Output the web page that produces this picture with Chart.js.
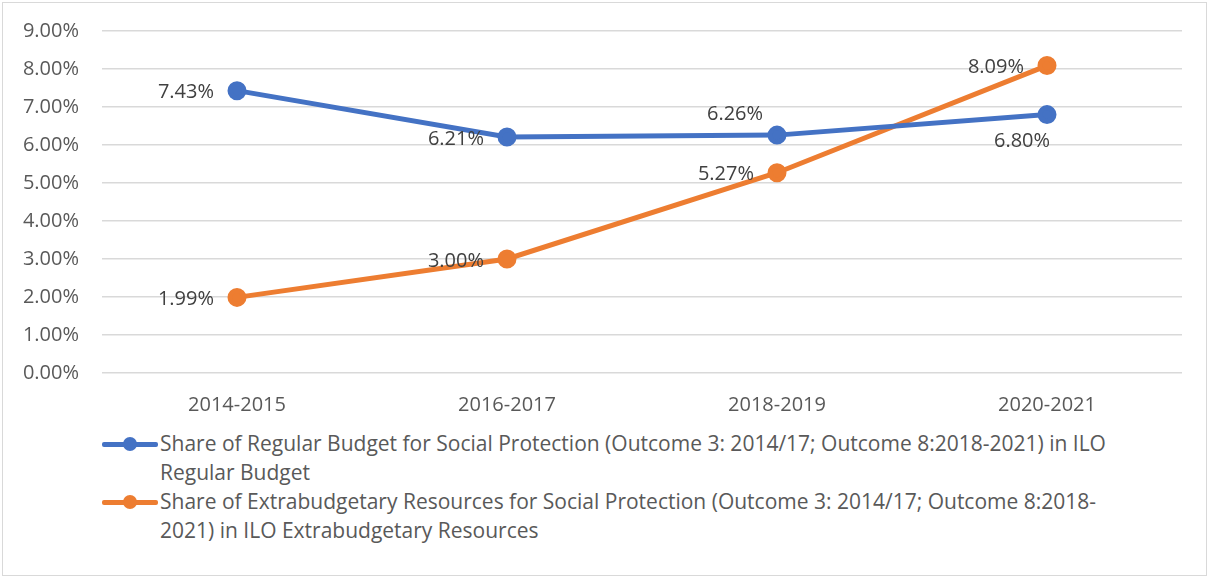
<!DOCTYPE html>
<html>
<head>
<meta charset="utf-8">
<script src="https://cdn.jsdelivr.net/npm/chart.js@4"></script>
<style>
  html, body { margin: 0; padding: 0; background: #fff; }
  #wrap { position: relative; width: 1212px; height: 580px; overflow: hidden; }
  #frame { position: absolute; left: 2px; top: 2px; width: 1205px; height: 574px; border: 1px solid #d9d9d9; box-sizing: border-box; }
  #chart-box { position: absolute; left: 0; top: -4px; width: 1212px; height: 425px; }
  #legend { position: absolute; left: 102px; top: 429px; font-family: 'Open Sans', sans-serif; font-size: 21px; color: #595959; line-height: 29px; }
  .item { display: flex; align-items: flex-start; white-space: nowrap; }
  .swatch { position: relative; width: 56px; height: 29px; flex: none; margin-right: 2px; }
  .swatch i { position: absolute; left: 0; right: 0; top: 13px; height: 5px; border-radius: 2px; }
  .swatch b { position: absolute; left: 21px; top: 8px; width: 14px; height: 14px; border-radius: 50%; }
</style>
</head>
<body>
<div id="wrap">
  <div id="frame"></div>
  <div id="chart-box"><canvas id="c"></canvas></div>
  <div id="legend"></div>
</div>
<script>
const periods = ['2014-2015', '2016-2017', '2018-2019', '2020-2021'];
const regularBudget = [7.43, 6.21, 6.26, 6.80];
const extraBudget = [1.99, 3.00, 5.27, 8.09];
const seriesNames = [
  ['Share of Regular Budget for Social Protection (Outcome 3: 2014/17; Outcome 8:2018-2021) in ILO', 'Regular Budget'],
  ['Share of Extrabudgetary Resources for Social Protection (Outcome 3: 2014/17; Outcome 8:2018-', '2021) in ILO Extrabudgetary Resources']
];
const colors = ['#4472C4', '#ED7D31'];

// where each value label sits relative to its point
const labelPlace = [
  ['left', 'left', 'above', 'below'],
  ['left', 'left', 'left', 'left']
];

const valueLabels = {
  id: 'valueLabels',
  afterDatasetsDraw(chart) {
    const ctx = chart.ctx;
    ctx.save();
    ctx.font = "20px 'Open Sans', sans-serif";
    ctx.fillStyle = '#404040';
    ctx.textBaseline = 'middle';
    chart.data.datasets.forEach((ds, i) => {
      chart.getDatasetMeta(i).data.forEach((pt, j) => {
        const txt = ds.data[j].toFixed(2) + '%';
        const place = labelPlace[i][j];
        if (place === 'left') {
          ctx.textAlign = 'right';
          ctx.fillText(txt, pt.x - 23, pt.y + 2);
        } else if (place === 'above') {
          ctx.textAlign = 'center';
          ctx.fillText(txt, pt.x - 42, pt.y - 21);
        } else {
          ctx.textAlign = 'center';
          ctx.fillText(txt, pt.x - 25, pt.y + 27);
        }
      });
    });
    ctx.restore();
  }
};

new Chart(document.getElementById('c'), {
  type: 'line',
  data: {
    labels: periods,
    datasets: [regularBudget, extraBudget].map((d, i) => ({
      label: seriesNames[i].join(' '),
      data: d,
      borderColor: colors[i],
      backgroundColor: colors[i],
      borderWidth: 5,
      pointRadius: 7,
      pointHoverRadius: 7,
      tension: 0
    }))
  },
  options: {
    responsive: true,
    maintainAspectRatio: false,
    animation: false,
    layout: { padding: { left: 0, right: 30, top: 22, bottom: 0 } },
    plugins: { legend: { display: false }, tooltip: { enabled: false } },
    scales: {
      x: {
        offset: true,
        grid: { display: false },
        border: { display: false },
        ticks: { color: '#595959', font: { family: "'Open Sans', sans-serif", size: 20 }, padding: 12 },
        afterFit(s) { s.height = 48; }
      },
      y: {
        min: 0,
        max: 9,
        grid: { color: '#d9d9d9', lineWidth: 1.5, drawTicks: false },
        border: { display: false },
        ticks: {
          stepSize: 1,
          color: '#595959',
          font: { family: "'Open Sans', sans-serif", size: 20 },
          padding: 23,
          callback: v => v.toFixed(2) + '%'
        },
        afterFit(s) { s.width = 102; }
      }
    }
  },
  plugins: [valueLabels]
});

const legend = document.getElementById('legend');
seriesNames.forEach((lines, i) => {
  const row = document.createElement('div');
  row.className = 'item';
  row.innerHTML = '<div class="swatch"><i style="background:' + colors[i] + '"></i><b style="background:' + colors[i] + '"></b></div>' +
    '<div>' + lines.join('<br>') + '</div>';
  legend.appendChild(row);
});
</script>
</body>
</html>
